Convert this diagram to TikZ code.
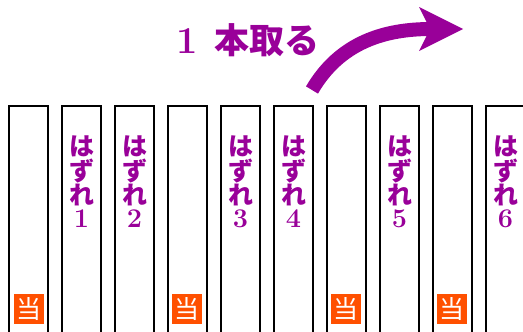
\documentclass[tikz,border=0pt]{standalone}
\usepackage{fontspec}
\newfontfamily\jp{Noto Sans CJK JP}
\definecolor{pur}{HTML}{990099}
\definecolor{ora}{HTML}{FF5000}
\newcommand{\dg}[2]{{\normalfont\bfseries\fontsize{#1}{#1}\selectfont #2}}
\tikzset{
 stick/.style={draw=black, line width=1.5pt, fill=white, minimum width=39pt, minimum height=240pt, anchor=north, inner sep=0pt},
 hz/.style={text=pur, font=\jp\bfseries\fontsize{25}{23}\selectfont, align=center, anchor=north, inner sep=0pt},
 atari/.style={fill=ora, text=white, minimum size=30pt, inner sep=0pt, font=\jp\fontsize{25}{25}\selectfont},
 ttl/.style={text=pur, font=\jp\bfseries\fontsize{35}{35}\selectfont, inner sep=0pt},
}
\begin{document}
\begin{tikzpicture}[x=1pt,y=-1pt]
\useasboundingbox (0,0) rectangle (523,332);
\clip (0,0) rectangle (523,332);
\foreach \i in {1,...,10} { \node[stick] (s\i) at ({28.5+53*(\i-1)},105) {}; }
\node[hz] (h1) at (s2.north) [yshift=-31pt] {は\\ず\\れ\\\dg{27}{1}};
\node[hz] (h2) at (s3.north) [yshift=-31pt] {は\\ず\\れ\\\dg{27}{2}};
\node[hz] (h3) at (s5.north) [yshift=-31pt] {は\\ず\\れ\\\dg{27}{3}};
\node[hz] (h4) at (s6.north) [yshift=-31pt] {は\\ず\\れ\\\dg{27}{4}};
\node[hz] (h5) at (s8.north) [yshift=-31pt] {は\\ず\\れ\\\dg{27}{5}};
\node[hz] (h6) at (s10.north) [yshift=-31pt] {は\\ず\\れ\\\dg{27}{6}};
\node[atari] (a1) at (29,309) {当};
\node[atari] (a2) at (187,309) {当};
\node[atari] (a3) at (346,309) {当};
\node[atari] (a4) at (452,309) {当};
\node[ttl] (t) at (248,40) {\dg{38}{1}\hspace{0.5em}本取る};
\draw[pur, line width=14pt] (312,90) .. controls (340,42) and (385,29) .. (431,29);
\fill[pur] (419,7) -- (463,29) -- (419,51) -- (430,29) -- cycle;
\end{tikzpicture}
\end{document}
